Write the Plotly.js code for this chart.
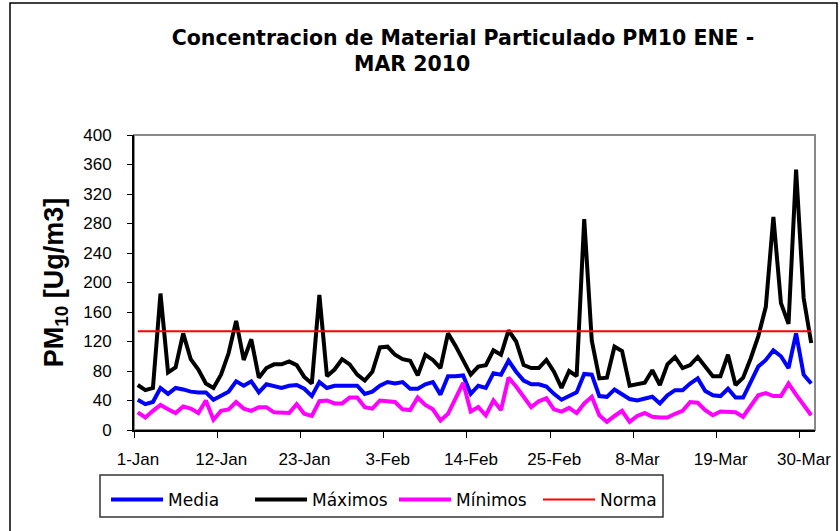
<!DOCTYPE html>
<html>
<head>
<meta charset="utf-8">
<script src="https://cdn.plot.ly/plotly-3.0.1.min.js"></script>
<style>
html,body{margin:0;padding:0;background:#fff;}
#chart{width:840px;height:531px;}
</style>
</head>
<body>
<div id="chart"></div>
<script>
// ---- data ----
var startDate = '2010-01-01';
var nDays = 90;
var tickLabels = ['1-Jan','12-Jan','23-Jan','3-Feb','14-Feb','25-Feb','8-Mar','19-Mar','30-Mar'];
var tickDates  = ['2010-01-01','2010-01-12','2010-01-23','2010-02-03','2010-02-14','2010-02-25','2010-03-08','2010-03-19','2010-03-30'];

var media = [41,35,38,57,49,57,55,52,51,51,41,46,52,66,60,66,51,62,60,57,60,61,56,46,65,57,60,60,60,60,
             49,52,60,65,63,65,56,56,62,65,48,73,73,74,49,60,57,77,75,94,79,67,62,62,59,49,41,46,51,76,
             75,46,45,55,49,42,40,43,45,36,47,54,54,63,70,53,47,46,56,44,44,65,86,95,108,100,84,131,75,63];

var maximos = [61,54,57,185,78,85,131,96,82,63,57,75,104,148,95,123,71,84,89,89,93,88,72,63,183,73,82,96,89,75,
               67,79,112,113,102,96,94,74,102,95,84,131,114,93,75,86,88,108,102,135,120,88,84,84,95,79,57,80,73,286,
               121,70,71,113,107,60,62,64,81,61,89,99,84,88,99,87,73,73,102,61,71,97,127,167,289,172,144,353,179,118];

var minimos = [24,17,26,34,28,23,32,29,23,40,14,26,28,38,29,26,31,31,24,23,23,35,22,19,39,40,36,36,44,44,
               31,29,40,39,38,28,27,44,34,28,13,22,43,64,25,31,20,40,27,71,59,45,31,39,43,28,25,30,23,36,
               45,20,11,19,26,11,19,23,18,17,17,22,26,38,37,27,20,25,25,24,18,33,47,50,46,46,63,48,34,20];

var norma = 134;

// ---- dates for each day ----
var dates = [];
(function(){
  var d0 = new Date(startDate + 'T00:00:00Z');
  for (var i = 0; i < nDays; i++) {
    var d = new Date(d0.getTime() + i * 86400000);
    dates.push(d.toISOString().slice(0,10));
  }
})();

// tick marks sit between days (half a day before each date); labels are shifted to the day centre
var tickVals = tickDates.map(function(s){
  var d = new Date(new Date(s + 'T00:00:00Z').getTime() - 43200000);
  return d.toISOString().slice(0,19).replace('T',' ');
});

var lineFont = 'Liberation Sans, Arial, sans-serif';
var geoFont = 'DejaVu Sans, sans-serif';

var traces = [
  {x: dates, y: media, name: 'Media', type: 'scatter', mode: 'lines',
   line: {color: '#0000FF', width: 4}},
  {x: dates, y: maximos, name: 'Máximos', type: 'scatter', mode: 'lines',
   line: {color: '#000000', width: 4}},
  {x: dates, y: minimos, name: 'Mínimos', type: 'scatter', mode: 'lines',
   line: {color: '#FF00FF', width: 4}},
  {x: [dates[0], dates[nDays-1]], y: [norma, norma], name: 'Norma', type: 'scatter', mode: 'lines',
   line: {color: '#FF0000', width: 2}}
];

// pixel helpers for paper coordinates (plot area: x 134..815, y 135..430)
function px(x){ return (x - 134) / 681; }
function py(y){ return (430 - y) / 295; }

var layout = {
  width: 840, height: 531,
  margin: {l: 134, r: 25, t: 135, b: 101},
  paper_bgcolor: '#ffffff',
  plot_bgcolor: '#ffffff',
  showlegend: true,
  title: {
    text: 'Concentracion de Material Particulado PM10 ENE -',
    font: {family: geoFont, size: 20.5, color: '#000000', weight: 'bold'},
    x: 463/840, xref: 'container', xanchor: 'center',
    y: 1 - 38/531, yref: 'container', yanchor: 'middle'
  },
  xaxis: {
    type: 'date',
    range: ['2009-12-31 12:00:00', '2010-03-31 12:00:00'],
    tickmode: 'array', tickvals: tickVals, ticktext: tickLabels,
    ticklabelshift: 4,
    ticks: 'outside', ticklen: 6, tickwidth: 1, tickcolor: '#000000',
    showline: true, linecolor: '#000000', linewidth: 2,
    showgrid: false, zeroline: false,
    tickfont: {family: lineFont, size: 17, color: '#000000'},
    ticklabelstandoff: 7,
    fixedrange: true
  },
  yaxis: {
    range: [0, 400],
    tickmode: 'array',
    tickvals: [0,40,80,120,160,200,240,280,320,360,400],
    ticks: 'outside', ticklen: 5, tickwidth: 1, tickcolor: '#000000',
    showline: true, linecolor: '#000000', linewidth: 2,
    showgrid: false, zeroline: false,
    tickfont: {family: lineFont, size: 17, color: '#000000'},
    ticklabelstandoff: 12,
    title: {text: 'PM<sub>10</sub> [Ug/m3]', font: {family: lineFont, size: 27, color: '#000000', weight: 'bold'}, standoff: 12},
    fixedrange: true
  },
  legend: {
    orientation: 'h',
    x: px(106), xanchor: 'left',
    y: py(482), yanchor: 'top',
    borderwidth: 0,
    bgcolor: 'rgba(0,0,0,0)',
    font: {family: geoFont, size: 17, color: '#000000'},
    itemwidth: 52,
    entrywidth: 77, entrywidthmode: 'pixels',
    traceorder: 'normal'
  },
  annotations: [
    {text: 'MAR 2010', xref: 'paper', yref: 'paper',
     x: px(412), y: py(64), xanchor: 'center', yanchor: 'middle',
     showarrow: false, font: {family: geoFont, size: 20.5, color: '#000000', weight: 'bold'}}
  ],
  shapes: [
    // plot-area frame
    {type: 'rect', xref: 'paper', yref: 'paper', x0: 0, x1: 1, y0: 0, y1: 1,
     line: {color: '#888888', width: 2}, layer: 'below'},
    // legend box
    {type: 'rect', xref: 'paper', yref: 'paper', x0: px(100), x1: px(663), y0: py(517), y1: py(475),
     line: {color: '#333333', width: 1.5}, fillcolor: '#ffffff', layer: 'below'},
    // chart frame
    {type: 'rect', xref: 'paper', yref: 'paper',
     x0: px(10), x1: px(837), y0: py(540), y1: py(3),
     line: {color: '#000000', width: 1.5}, layer: 'below'}
  ]
};

Plotly.newPlot('chart', traces, layout, {staticPlot: true, displayModeBar: false});
</script>
</body>
</html>
